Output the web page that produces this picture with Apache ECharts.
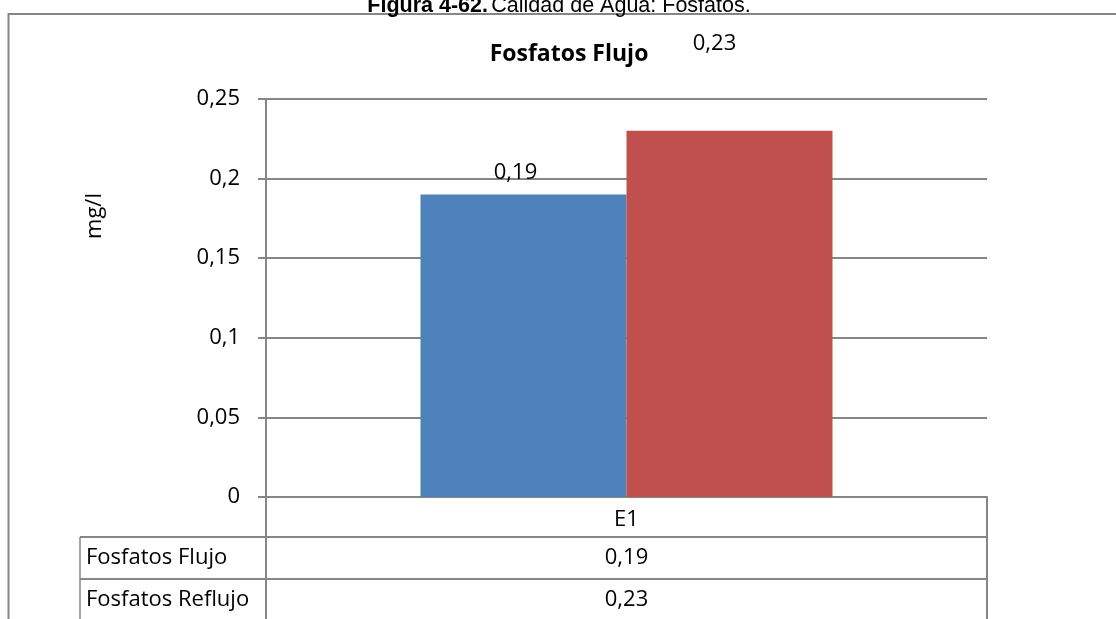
<!DOCTYPE html>
<html>
<head>
<meta charset="utf-8">
<script src="https://cdn.jsdelivr.net/npm/echarts@6/dist/echarts.min.js"></script>
<style>
  html, body { margin: 0; padding: 0; background: #fff; }
  #chart { width: 1116px; height: 619px; }
</style>
</head>
<body>
<div id="chart"></div>
<script>
// Phosphate readings at station E1 (mg/l)
const categories = ['E1'];
const seriesNames = ['Fosfatos Flujo', 'Fosfatos Reflujo'];
const flujo = [0.19];
const reflujo = [0.23];
const yTicks = { min: 0, max: 0.25, interval: 0.05 };

const seriesValues = [flujo, reflujo];
const colors = ['#4F81BD', '#C0504D'];
const gridColor = '#868686';
const font = '"Open Sans", "Liberation Sans", sans-serif';
const fs = 22;
const comma = v => String(+v.toFixed(2)).replace('.', ',');

// Geometry of the plot area and the data table below it
const plotL = 266, plotR = 987, plotB = 497, tableL = 80;
const rowLines = [537, 579, 621];

const chart = echarts.init(document.getElementById('chart'));

const graphics = [
  // outer chart frame
  { type: 'rect', shape: { x: 8.5, y: 14, width: 1200, height: 700 },
    style: { fill: 'none', stroke: gridColor, lineWidth: 2 }, silent: true },
  // figure caption
  { type: 'text', x: 559, y: 6,
    style: { text: '{b|Figura 4-62.} {r|Calidad de Agua: Fosfatos.}', align: 'center', verticalAlign: 'middle',
      rich: {
        b: { fontFamily: '"Liberation Sans", Arial, sans-serif', fontWeight: 'bold', fontSize: 21.5, fill: '#000' },
        r: { fontFamily: '"Liberation Sans", Arial, sans-serif', fontSize: 21.5, fill: '#000' }
      } } },
  // chart title
  { type: 'text', x: 569, y: 54,
    style: { text: 'Fosfatos Flujo', align: 'center', verticalAlign: 'middle',
      font: 'bold 23px ' + font, fill: '#000' } },
  // y-axis unit
  { type: 'text', x: 95, y: 216, rotation: Math.PI / 2,
    style: { text: 'mg/l', align: 'center', verticalAlign: 'middle',
      font: fs + 'px ' + font, fill: '#000' } },
  // data table borders
  { type: 'line', shape: { x1: plotL, y1: plotB, x2: plotL, y2: 625 }, style: { stroke: gridColor, lineWidth: 2 } },
  { type: 'line', shape: { x1: plotR, y1: plotB, x2: plotR, y2: 625 }, style: { stroke: gridColor, lineWidth: 2 } },
  { type: 'line', shape: { x1: tableL, y1: rowLines[0], x2: tableL, y2: 625 }, style: { stroke: gridColor, lineWidth: 1.5 } },
  { type: 'line', shape: { x1: tableL, y1: rowLines[0], x2: plotR, y2: rowLines[0] }, style: { stroke: gridColor, lineWidth: 2 } },
  { type: 'line', shape: { x1: tableL, y1: rowLines[1], x2: plotR, y2: rowLines[1] }, style: { stroke: gridColor, lineWidth: 2 } }
];

// table rows: series name + value per category
seriesNames.forEach((name, i) => {
  const yMid = (rowLines[i] + rowLines[i + 1]) / 2;
  graphics.push({ type: 'text', x: tableL + 6, y: yMid,
    style: { text: name, align: 'left', verticalAlign: 'middle', font: fs + 'px ' + font, fill: '#000' } });
  seriesValues[i].forEach((v, j) => {
    const cw = (plotR - plotL) / categories.length;
    graphics.push({ type: 'text', x: plotL + cw * (j + 0.5), y: yMid,
      style: { text: comma(v), align: 'center', verticalAlign: 'middle', font: fs + 'px ' + font, fill: '#000' } });
  });
});

chart.setOption({
  animation: false,
  backgroundColor: '#fff',
  grid: { left: plotL, right: 1116 - plotR, top: 99, bottom: 619 - plotB, containLabel: false },
  xAxis: {
    type: 'category',
    data: categories,
    axisLine: { show: true, lineStyle: { color: gridColor, width: 2 } },
    axisTick: { show: false },
    axisLabel: { margin: 12, fontSize: fs, fontFamily: font, color: '#000' }
  },
  yAxis: {
    type: 'value',
    min: yTicks.min, max: yTicks.max, interval: yTicks.interval,
    axisLine: { show: true, lineStyle: { color: gridColor, width: 2 } },
    axisTick: { show: true, length: 8, lineStyle: { color: gridColor, width: 2 } },
    splitLine: { show: true, lineStyle: { color: gridColor, width: 2 } },
    axisLabel: { margin: 26, fontSize: fs, fontFamily: font, color: '#000', formatter: comma }
  },
  series: [
    {
      name: seriesNames[0], type: 'bar', data: flujo,
      barWidth: 206, barGap: '0%',
      itemStyle: { color: colors[0] },
      label: { show: true, position: 'top', offset: [-8, -6], fontSize: fs, fontFamily: font, color: '#000',
        formatter: p => comma(p.value) }
    },
    {
      name: seriesNames[1], type: 'bar', data: reflujo,
      barWidth: 206, barGap: '0%',
      itemStyle: { color: colors[1] },
      label: { show: true, position: 'top', offset: [-15, -71], fontSize: fs, fontFamily: font, color: '#000',
        formatter: p => comma(p.value) }
    }
  ],
  graphic: graphics
});
</script>
</body>
</html>
